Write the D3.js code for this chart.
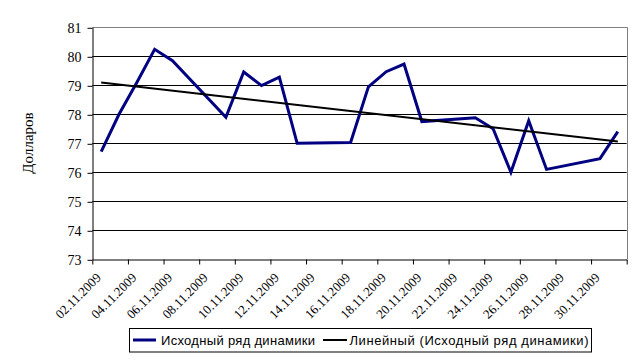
<!DOCTYPE html>
<html><head><meta charset="utf-8">
<script src="https://cdn.jsdelivr.net/npm/d3@7"></script>
<style>body{margin:0;background:#fff}svg{display:block}</style>
</head><body>
<svg id="c" width="641" height="361"></svg>
<script>
const dates = ["2009-11-02","2009-11-03","2009-11-04","2009-11-05","2009-11-06","2009-11-09","2009-11-10","2009-11-11","2009-11-12","2009-11-13","2009-11-16","2009-11-17","2009-11-18","2009-11-19","2009-11-20","2009-11-23","2009-11-24","2009-11-25","2009-11-26","2009-11-27","2009-11-30","2009-12-01"];
const values = [76.71,78.0,79.1,80.24,79.85,77.9,79.46,78.99,79.28,77.0,77.03,78.95,79.47,79.73,77.75,77.88,77.5,76.0,77.78,76.1,76.47,77.4];
const yTicks = [73,74,75,76,77,78,79,80,81];
const xTickLabels = ["02.11.2009","04.11.2009","06.11.2009","08.11.2009","10.11.2009","12.11.2009","14.11.2009","16.11.2009","18.11.2009","20.11.2009","22.11.2009","24.11.2009","26.11.2009","28.11.2009","30.11.2009"];
const seriesName = "Исходный ряд динамики";
const trendName = "Линейный (Исходный ряд динамики)";
const yTitle = "Долларов";

const svg = d3.select("#c");
const L = 92.3, R = 626.7, T = 27.3, B = 259.3;
const parse = d3.utcParse("%Y-%m-%d");
const day = 864e5;
const x0 = parse("2009-11-02"), x1 = parse("2009-12-02");
const x = d3.scaleUtc().domain([x0, x1]).range([L, R]);
const y = d3.scaleLinear().domain([73, 81]).range([B, T]);
const pts = dates.map((d, i) => ({t: new Date(parse(d).getTime() + day / 2), v: values[i]}));

// gridlines
svg.append("g").selectAll("line").data(yTicks.slice(1, -1)).join("line")
  .attr("x1", L).attr("x2", R).attr("y1", d => Math.round(y(d)) + 0.5).attr("y2", d => Math.round(y(d)) + 0.5)
  .attr("stroke", "#000").attr("stroke-width", 1);
// plot border top/right
svg.append("path").attr("d", `M${L},${Math.round(T)+0.5}H${Math.round(R)+0.5}V${Math.round(B)}`)
  .attr("fill", "none").attr("stroke", "#808080").attr("stroke-width", 1);

// y axis
const ya = svg.append("g").attr("transform", `translate(${Math.round(L)+0.5},0)`)
  .call(d3.axisLeft(y).tickValues(yTicks).tickSize(5).tickSizeOuter(0).tickFormat(d3.format("d")));
ya.select(".domain").attr("stroke", "#000");
ya.selectAll(".tick line").attr("stroke", "#000").attr("transform", "translate(0,0.5)");
ya.selectAll(".tick text").attr("font-family", "Liberation Serif").attr("font-size", 14).attr("fill", "#000")
  .attr("x", -11).attr("dy", "0.36em");

// x axis
const tickDates = d3.range(0, 16).map(i => new Date(x0.getTime() + i * 2 * day));
const xa = svg.append("g").attr("transform", `translate(0,${Math.round(B)+0.5})`)
  .call(d3.axisBottom(x).tickValues(tickDates).tickSize(5).tickSizeOuter(0).tickFormat((d, i) => xTickLabels[i] || ""));
xa.select(".domain").attr("stroke", "#000");
xa.selectAll(".tick line").attr("stroke", "#000");
xa.selectAll(".tick text").attr("font-family", "Liberation Serif").attr("font-size", 13).attr("fill", "#000")
  .attr("text-anchor", "end").attr("y", 0).attr("dy", 0)
  .attr("transform", "translate(9,19) rotate(-45)");

// y title
svg.append("text").attr("transform", "translate(33,143) rotate(-90)").attr("text-anchor", "middle")
  .attr("font-family", "Liberation Serif").attr("font-size", 15).text(yTitle);

// series
const line = d3.line().x(d => x(d.t)).y(d => y(d.v));
svg.append("path").datum(pts).attr("d", line).attr("fill", "none").attr("stroke", "#000080")
  .attr("stroke-width", 3).attr("stroke-linejoin", "miter");

// linear trend (least squares)
const xs = pts.map(p => p.t.getTime() / day), vs = pts.map(p => p.v);
const mx = d3.mean(xs), mv = d3.mean(vs);
const slope = d3.sum(xs.map((xx, i) => (xx - mx) * (vs[i] - mv))) / d3.sum(xs.map(xx => (xx - mx) ** 2));
const icpt = mv - slope * mx;
const ends = [pts[0].t, pts[pts.length - 1].t].map(t => ({t, v: icpt + slope * t.getTime() / day}));
svg.append("path").datum(ends).attr("d", line).attr("fill", "none").attr("stroke", "#000").attr("stroke-width", 2);

// legend
const lg = svg.append("g");
lg.append("rect").attr("x", 129.5).attr("y", 328.5).attr("width", 462).attr("height", 23.5)
  .attr("fill", "#fff").attr("stroke", "#000").attr("stroke-width", 1);
lg.append("line").attr("x1", 133).attr("x2", 156).attr("y1", 340).attr("y2", 340).attr("stroke", "#000080").attr("stroke-width", 3);
lg.append("text").attr("x", 161).attr("y", 345).attr("font-family", "Liberation Sans").attr("font-size", 13)
  .attr("textLength", 154).attr("lengthAdjust", "spacing").text(seriesName);
lg.append("line").attr("x1", 323).attr("x2", 347).attr("y1", 340).attr("y2", 340).attr("stroke", "#000").attr("stroke-width", 2);
lg.append("text").attr("x", 349.5).attr("y", 345).attr("font-family", "Liberation Sans").attr("font-size", 13)
  .attr("textLength", 239).attr("lengthAdjust", "spacing").text(trendName);
</script>
</body></html>
